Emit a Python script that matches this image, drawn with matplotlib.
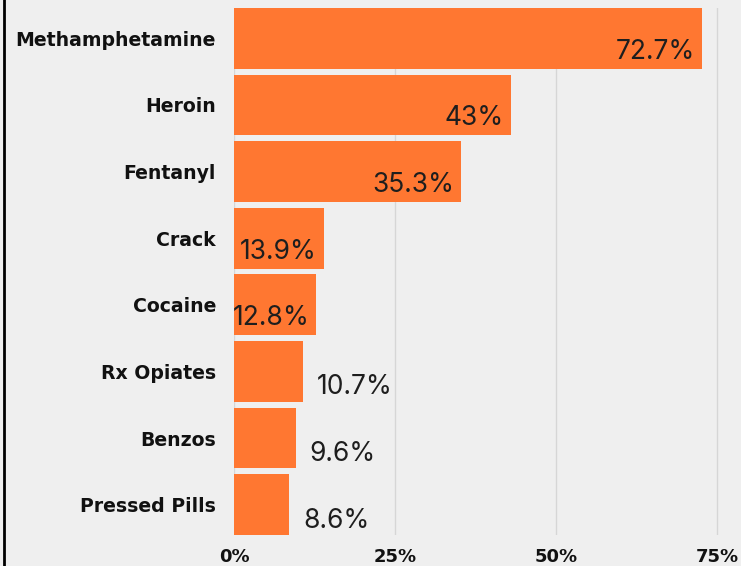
import matplotlib.pyplot as plt
from matplotlib.lines import Line2D

drugs = ["Methamphetamine", "Heroin", "Fentanyl", "Crack", "Cocaine",
         "Rx Opiates", "Benzos", "Pressed Pills"]
values = [72.7, 43, 35.3, 13.9, 12.8, 10.7, 9.6, 8.6]
value_labels = ["72.7%", "43%", "35.3%", "13.9%", "12.8%", "10.7%", "9.6%", "8.6%"]
x_ticks = [0, 25, 50, 75]
x_tick_labels = ["0%", "25%", "50%", "75%"]

BG = "#efefef"
BAR = "#ff7731"
TEXT = "#1e1e1e"

W, H = 741, 566
fig = plt.figure(figsize=(W / 100, H / 100), dpi=100, facecolor=BG)
ax = fig.add_axes([234 / W, 31 / H, (W - 234) / W, 527 / H])
ax.set_facecolor(BG)

px_per_unit = 161 / 25
ax.set_xlim(0, (W - 234) / px_per_unit)
ax.set_ylim(len(drugs) - 1 + 0.455, -0.455)

ax.set_axisbelow(True)
ax.grid(axis="x", color="#d6d6d6", linewidth=1)
ax.grid(axis="y", visible=False)

ypos = list(range(len(drugs)))
ax.barh(ypos, values, height=0.91, color=BAR, edgecolor="none")

# labels go inside the bar when they fit, otherwise just past the end
for i, (v, lab) in enumerate(zip(values, value_labels)):
    if v >= 12:
        ax.text(v - 7 / px_per_unit, i + 0.2, lab, ha="right", va="center",
                fontsize=19, family=["Inter", "DejaVu Sans"], color=TEXT)
    else:
        ax.text(v + 14 / px_per_unit, i + 0.24, lab, ha="left", va="center",
                fontsize=19, family=["Inter", "DejaVu Sans"], color=TEXT)

ax.set_yticks(ypos)
ax.set_yticklabels(drugs, fontsize=13.6, fontweight="bold", color="#111111",
                   family="DejaVu Sans")
ax.set_xticks(x_ticks)
ax.set_xticklabels(x_tick_labels, fontsize=13, fontweight="bold", color="#111111",
                   family="DejaVu Sans")
ax.tick_params(axis="y", length=0, pad=13)
ax.tick_params(axis="x", length=0, pad=9)

for s in ax.spines.values():
    s.set_visible(False)

fig.add_artist(Line2D([4 / W, 4 / W], [0, 1], color="black", linewidth=2,
                      transform=fig.transFigure))

fig.savefig("out.png", dpi=100, facecolor=BG)
